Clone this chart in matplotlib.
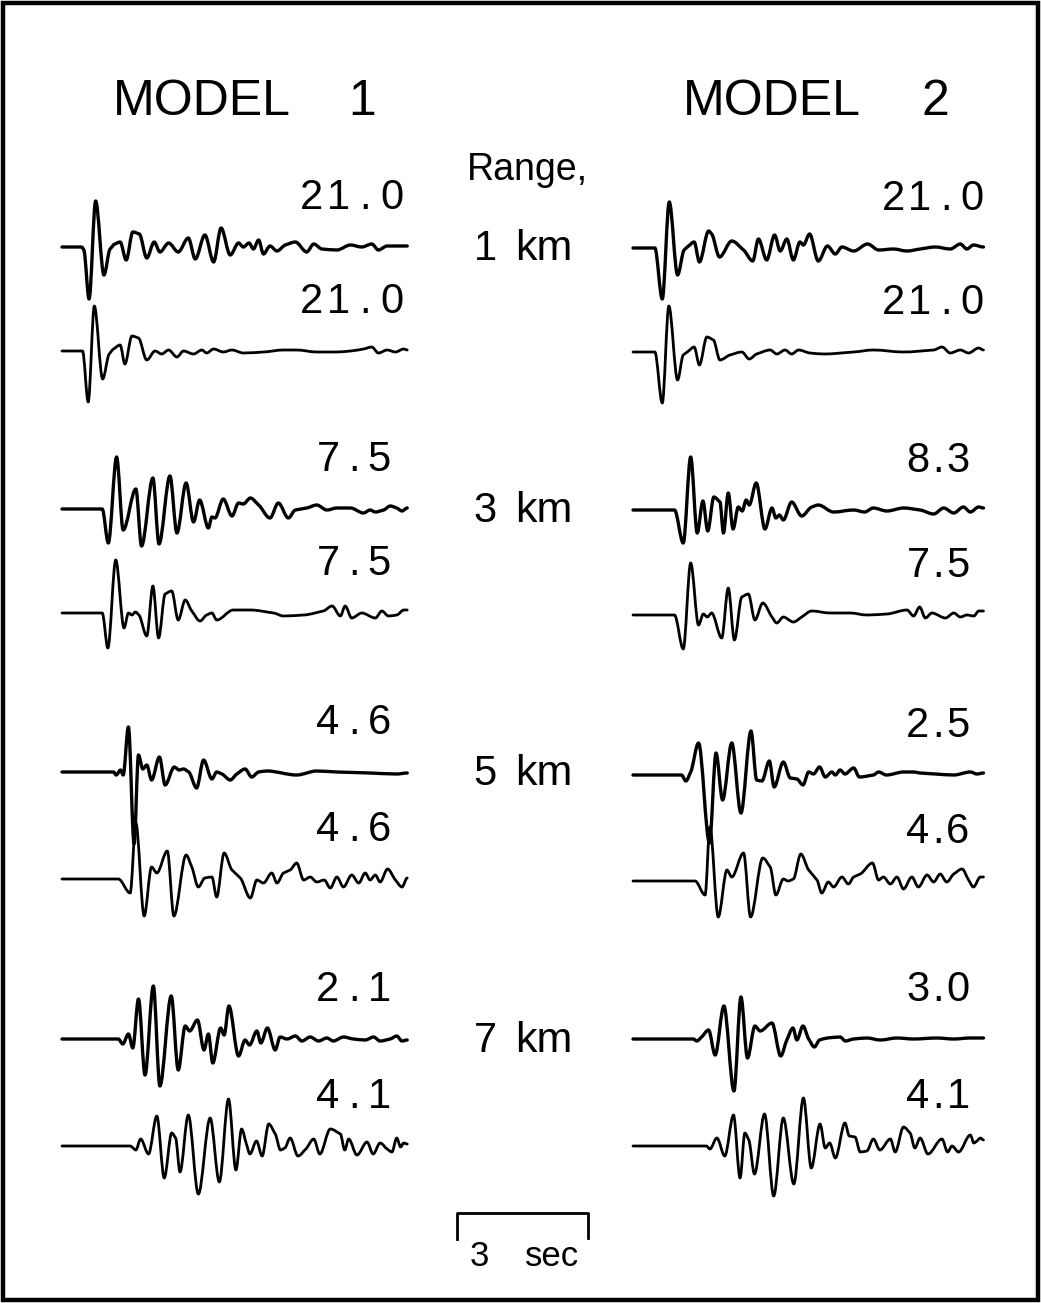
import numpy as np
import matplotlib
matplotlib.use("Agg")
import matplotlib.pyplot as plt
from matplotlib.patches import Rectangle, PathPatch
from matplotlib.path import Path

### data: seismogram traces as (time [s], amplitude)
### ==================================================

MODELS = ["MODEL", "MODEL"]
MODEL_NUMS = ["1", "2"]
RANGES = ["1 km", "3 km", "5 km", "7 km"]
M1_PEAKS = ["21.0", "21.0", "7.5", "7.5", "4.6", "4.6", "2.1", "4.1"]
M2_PEAKS = ["21.0", "21.0", "8.3", "7.5", "2.5", "4.6", "3.0", "4.1"]
SCALE_SEC = 3

M1_1KM_A = [(0, 0), (0.45, 0), (0.50, -3), (0.62, -52), (0.77, 46), (0.96, -28), (1.10, -2), (1.21, 3),
            (1.33, 5), (1.47, -13), (1.62, 15), (1.77, 13), (1.94, -11), (2.11, 5), (2.24, -5), (2.44, 4),
            (2.66, -5), (2.89, 9), (3.05, -12), (3.27, 12), (3.47, -15), (3.64, 19), (3.85, -8), (4.04, 4),
            (4.15, 0), (4.28, 4), (4.38, -2), (4.50, 7), (4.61, -7), (4.76, 1), (4.92, -4), (5.11, 2),
            (5.34, 5), (5.60, -5), (5.76, 3), (5.95, -2), (6.29, -3), (6.60, 2), (6.86, 0), (7.09, 3),
            (7.24, -3), (7.44, 1), (7.90, 1)]
M1_1KM_B = [(0, 0), (0.47, 0), (0.60, -51), (0.74, 45), (0.93, -28), (1.08, -3), (1.18, 2), (1.33, 6),
            (1.44, -13), (1.60, 15), (1.75, 13), (1.94, -9), (2.13, 0), (2.28, -3), (2.44, 1), (2.63, -6),
            (2.78, 0), (3.01, -3), (3.20, 1), (3.31, -2), (3.47, 2), (3.69, -1), (3.89, 1), (4.15, -2),
            (4.61, -1), (5.07, 1), (5.37, 1), (5.83, -1), (6.29, -1), (6.60, 0), (6.90, 2), (7.09, 4),
            (7.24, -2), (7.44, 1), (7.63, -1), (7.82, 2), (7.90, 1)]
M2_1KM_A = [(0, 0), (0.50, 0), (0.67, -51), (0.83, 46), (1.02, -27), (1.17, -2), (1.27, 2), (1.40, 6),
            (1.52, -14), (1.73, 17), (1.80, 14), (1.98, -9), (2.26, 7), (2.53, -2), (2.74, -13), (2.87, 9),
            (3.06, -12), (3.24, 13), (3.37, -3), (3.52, 9), (3.67, -12), (3.82, 6), (3.90, 3), (4.04, 14),
            (4.24, -13), (4.45, 2), (4.63, -6), (4.78, 1), (5.05, -3), (5.37, 4), (5.62, -2), (5.96, -1),
            (6.27, -3), (6.57, -1), (6.92, 1), (7.26, -1), (7.49, 4), (7.64, -1), (7.79, 3), (8.02, 1)]
M2_1KM_B = [(0, 0), (0.50, 0), (0.67, -51), (0.82, 46), (1.02, -28), (1.15, -3), (1.27, 1), (1.40, 5),
            (1.52, -13), (1.69, 15), (1.84, 12), (1.99, -8), (2.22, -3), (2.49, 0), (2.66, -7), (2.83, -2),
            (3.14, 2), (3.29, -2), (3.48, 2), (3.63, -2), (3.79, 2), (4.05, -1), (4.36, -2), (5.05, 0),
            (5.50, 2), (6.19, 0), (6.88, 2), (7.07, 5), (7.26, -1), (7.49, 2), (7.68, -1), (7.91, 4),
            (8.02, 2)]

M1_3KM_A = [(0, 0), (0.92, 0), (1.06, -34), (1.25, 52), (1.40, -21), (1.69, 20), (1.82, -37), (2.08, 31),
            (2.22, -35), (2.47, 33), (2.63, -24), (2.84, 26), (3.01, -13), (3.15, 9), (3.35, -19), (3.43, -8),
            (3.50, -9), (3.69, 10), (3.89, -7), (4.04, 6), (4.15, 5), (4.31, 11), (4.50, 4), (4.76, -9),
            (4.95, 6), (5.18, -9), (5.34, -1), (5.60, 1), (5.83, 4), (6.06, -1), (6.29, 1), (6.60, 1),
            (6.90, -4), (7.05, -1), (7.17, -3), (7.36, -1), (7.51, 3), (7.66, 1), (7.78, -2), (7.90, 1)]
M1_3KM_B = [(0, 0), (0.92, 0), (1.05, -35), (1.23, 53), (1.42, -15), (1.52, 0), (1.60, -2), (1.68, 1),
            (1.76, -2), (1.94, -23), (2.08, 27), (2.21, -25), (2.36, 19), (2.51, 22), (2.66, -7), (2.82, 13),
            (2.97, 2), (3.16, -8), (3.31, -2), (3.43, 0), (3.54, -7), (3.92, 3), (4.31, 3), (4.84, 0),
            (5.07, -3), (5.53, -2), (5.98, 2), (6.18, 7), (6.37, -3), (6.48, 7), (6.63, -5), (6.86, 0),
            (7.17, -5), (7.32, 2), (7.47, -3), (7.66, -2), (7.82, 3), (7.90, 3)]
M2_3KM_A = [(0, 0), (0.95, 0), (1.15, -33), (1.32, 53), (1.47, -23), (1.60, 9), (1.71, -21), (1.85, 13),
            (1.99, 8), (2.07, -23), (2.18, 17), (2.29, -19), (2.41, 3), (2.50, -1), (2.59, 10), (2.66, 5),
            (2.82, 27), (3.02, -19), (3.18, 2), (3.27, -8), (3.35, -5), (3.44, -10), (3.63, 8), (3.86, -6),
            (4.09, 3), (4.24, 5), (4.59, -2), (5.05, 0), (5.30, -2), (5.50, 2), (5.81, -1), (6.19, 2),
            (6.57, 0), (6.88, -4), (7.11, 2), (7.34, -3), (7.56, 3), (7.72, -2), (7.91, 3), (8.02, 2)]
M2_3KM_B = [(0, 0), (0.95, 0), (1.15, -34), (1.32, 52), (1.50, -10), (1.61, 1), (1.70, -2), (1.80, 2),
            (2.03, -23), (2.18, 27), (2.32, -25), (2.49, 18), (2.64, 21), (2.79, -5), (2.97, 12), (3.18, -2),
            (3.29, -8), (3.44, -2), (3.67, -7), (3.86, -2), (4.09, 4), (4.51, 2), (4.97, 2), (5.35, 0),
            (5.81, 1), (6.27, 5), (6.42, -1), (6.56, 8), (6.69, -3), (6.84, 2), (7.15, -3), (7.34, 2),
            (7.49, -2), (7.64, 0), (7.80, -1), (7.91, 4), (8.02, 4)]

M1_5KM_A = [(0, 0), (1.18, 0), (1.24, -3), (1.34, 2), (1.40, -3), (1.52, 45), (1.65, -72), (1.75, 17),
            (1.85, 3), (1.94, 7), (2.05, -8), (2.23, 15), (2.36, -13), (2.57, 5), (2.68, 2), (2.78, 3),
            (2.90, 0), (3.08, -16), (3.24, 12), (3.43, -7), (3.54, 0), (3.66, -2), (3.85, -8), (4.00, -2),
            (4.19, 3), (4.34, -5), (4.50, 0), (4.69, 1), (5.37, -3), (5.83, 1), (6.29, 0), (7.05, -1),
            (7.66, -2), (7.90, -1)]
M1_5KM_B = [(0, 0), (1.29, 0), (1.56, -14), (1.69, 56), (1.88, -37), (2.05, 12), (2.17, 6), (2.41, 28),
            (2.56, -37), (2.84, 24), (2.97, 12), (3.12, -8), (3.27, 1), (3.43, 2), (3.54, -18), (3.71, 26),
            (3.89, 9), (4.08, 1), (4.31, -19), (4.46, -1), (4.61, -4), (4.80, 6), (4.92, -4), (5.07, 6),
            (5.22, 9), (5.37, 16), (5.53, -1), (5.68, 2), (5.83, -3), (6.00, -1), (6.14, -9), (6.29, 2),
            (6.44, -8), (6.63, 4), (6.79, -4), (6.94, 6), (7.05, -1), (7.17, 4), (7.28, -3), (7.45, 10),
            (7.63, -1), (7.78, -8), (7.90, 1)]
M2_5KM_A = [(0, 0), (1.11, 0), (1.21, -6), (1.32, 3), (1.50, 32), (1.75, -68), (1.90, 22), (2.05, -25),
            (2.26, 32), (2.47, -38), (2.70, 44), (2.83, -5), (2.95, -6), (3.12, 14), (3.23, -12), (3.44, 13),
            (3.60, -3), (3.75, -4), (3.89, -10), (4.02, 3), (4.13, 1), (4.27, 8), (4.40, -2), (4.55, 3),
            (4.63, 0), (4.74, 5), (4.85, 1), (5.05, 7), (5.18, -2), (5.50, 0), (5.62, 3), (5.80, 0),
            (6.19, 3), (6.42, 3), (6.57, 2), (6.92, 1), (7.34, 0), (7.72, 3), (7.87, 1), (8.02, 2)]
M2_5KM_B = [(0, 0), (1.42, 0), (1.65, -14), (1.76, 54), (1.95, -36), (2.15, 11), (2.26, 4), (2.53, 28),
            (2.69, -36), (2.97, 23), (3.14, 14), (3.27, -14), (3.44, 2), (3.55, 0), (3.67, 2), (3.84, 27),
            (4.02, 11), (4.21, 1), (4.32, -12), (4.47, -1), (4.59, -6), (4.78, 4), (4.93, -3), (5.05, 4),
            (5.20, 7), (5.48, 18), (5.62, 1), (5.73, 4), (5.89, -3), (6.04, 4), (6.19, -8), (6.38, 4),
            (6.53, -6), (6.73, 6), (6.88, -1), (7.03, 7), (7.18, -1), (7.34, 7), (7.53, 12), (7.68, 1),
            (7.79, -6), (7.95, 4), (8.02, 4)]

M1_7KM_A = [(0, 0), (1.29, 0), (1.39, -5), (1.52, 5), (1.62, -9), (1.75, 40), (1.90, -36), (2.09, 53),
            (2.24, -47), (2.50, 43), (2.66, -31), (2.82, 13), (2.92, 8), (3.10, 19), (3.25, -11), (3.35, 5),
            (3.45, -24), (3.63, 11), (3.71, 4), (3.82, 33), (4.04, -17), (4.19, -1), (4.29, -6), (4.46, 8),
            (4.55, -4), (4.70, 11), (4.88, -11), (4.99, 2), (5.15, 0), (5.34, 3), (5.49, -2), (5.68, 2),
            (5.87, -2), (6.06, 1), (6.21, -2), (6.44, 2), (6.67, 0), (6.94, -1), (7.13, 2), (7.28, -2),
            (7.51, 0), (7.66, 3), (7.78, -2), (7.90, -1)]
M1_7KM_B = [(0, 0), (1.56, 0), (1.69, -4), (1.80, 7), (1.98, -8), (2.17, 30), (2.34, -32), (2.51, 13),
            (2.60, 8), (2.70, -26), (2.89, 31), (3.12, -48), (3.39, 28), (3.60, -36), (3.81, 47), (3.98, -24),
            (4.11, 17), (4.22, 2), (4.30, -8), (4.45, 5), (4.58, -10), (4.73, 22), (4.88, 12), (5.00, -4),
            (5.10, -2), (5.22, 8), (5.40, -10), (5.58, -3), (5.76, 7), (5.90, -8), (6.14, 17), (6.37, 12),
            (6.47, -4), (6.56, 7), (6.75, -9), (6.98, 4), (7.12, -8), (7.28, 3), (7.44, -3), (7.55, -6),
            (7.66, 8), (7.75, -1), (7.82, 3), (7.90, 2)]
M2_7KM_A = [(0, 0), (1.38, 0), (1.46, -2), (1.57, 2), (1.73, 9), (1.88, -16), (2.08, 33), (2.31, -52),
            (2.47, 42), (2.62, -19), (2.79, 13), (2.91, 8), (3.18, 16), (3.38, -17), (3.52, -1), (3.66, 11),
            (3.75, -1), (3.89, 13), (4.02, 0), (4.15, -8), (4.27, -1), (4.45, 1), (4.74, 2), (4.86, -2),
            (5.05, 0), (5.35, 1), (5.66, -1), (6.04, 1), (6.42, 0), (6.95, 1), (7.34, 0), (7.72, 1),
            (8.02, 1)]
M2_7KM_B = [(0, 0), (1.68, 0), (1.76, -3), (1.92, 8), (2.10, -10), (2.30, 31), (2.45, -32), (2.56, 13),
            (2.65, 6), (2.78, -28), (3.01, 32), (3.22, -50), (3.44, 28), (3.68, -38), (3.90, 48), (4.08, -22),
            (4.28, 22), (4.40, -2), (4.50, 3), (4.63, -12), (4.85, 23), (4.95, 10), (5.08, 9), (5.20, -6),
            (5.35, -5), (5.50, 7), (5.65, -4), (5.89, 7), (6.00, -6), (6.19, 19), (6.34, 13), (6.45, -2),
            (6.57, 8), (6.75, -8), (7.07, 7), (7.20, -6), (7.30, 0), (7.45, -6), (7.72, 11), (7.80, 3),
            (7.87, 5), (7.95, 8), (8.02, 6)]

M1_TRACES = [M1_1KM_A, M1_1KM_B, M1_3KM_A, M1_3KM_B, M1_5KM_A, M1_5KM_B, M1_7KM_A, M1_7KM_B]
M2_TRACES = [M2_1KM_A, M2_1KM_B, M2_3KM_A, M2_3KM_B, M2_5KM_A, M2_5KM_B, M2_7KM_A, M2_7KM_B]


### layout (figure pixels, y down)
### ==================================================
W, H = 1041, 1303
PX_PER_SEC = 43.7
PANEL_X0 = [62, 633]
BASELINES = [[247, 351, 509, 613, 772, 879, 1039, 1146],
             [248, 352, 510, 615, 775, 881, 1039, 1146]]
TITLE_X = [(113, 362), (683, 935)]
# first glyph centre / advance for 4- and 3-character peak labels
LABEL_POS = [{4: (312, 26.7), 3: (328, 25.5)},
             {4: (893, 26.3), 3: (918, 20.0)}]
FONT = ['Liberation Sans', 'DejaVu Sans']


def spaced_text(ax, x_first, y, s, adv, size):
    # draw characters one by one at a fixed advance, like plotter lettering
    for i, ch in enumerate(s):
        if ch != ' ':
            ax.text(x_first + i * adv, y, ch, ha='center', va='baseline',
                    fontsize=size, family=FONT, color='black')


def trace_path(x, y):
    # smooth pen path through the read-off extrema (flat tangent at turning points)
    n = len(x)
    m = np.zeros(n)
    for i in range(1, n - 1):
        dl = (y[i] - y[i - 1]) / (x[i] - x[i - 1])
        dr = (y[i + 1] - y[i]) / (x[i + 1] - x[i])
        if dl * dr > 0:
            m[i] = np.sign(dl) * min(abs(dl), abs(dr), abs(dl + dr) / 2 * 1.5)
    verts = [(x[0], y[0])]
    codes = [Path.MOVETO]
    for i in range(n - 1):
        dx = (x[i + 1] - x[i]) / 3
        verts += [(x[i] + dx, y[i] + m[i] * dx),
                  (x[i + 1] - dx, y[i + 1] - m[i + 1] * dx),
                  (x[i + 1], y[i + 1])]
        codes += [Path.CURVE4] * 3
    return Path(verts, codes)


fig = plt.figure(figsize=(W / 100, H / 100), dpi=100)
ax = fig.add_axes([0, 0, 1, 1])
ax.set_xlim(0, W)
ax.set_ylim(H, 0)
ax.axis('off')

# outer frame
ax.add_patch(Rectangle((3, 3), W - 6, H - 6, fill=False, lw=3.2, ec='black'))

# model titles
for p in range(2):
    ax.text(TITLE_X[p][0], 115, MODELS[p], ha='left', va='baseline', fontsize=36, family=FONT)
    ax.text(TITLE_X[p][1], 115, MODEL_NUMS[p], ha='center', va='baseline', fontsize=36, family=FONT)

# traces and peak labels
for p, (traces, peaks) in enumerate([(M1_TRACES, M1_PEAKS), (M2_TRACES, M2_PEAKS)]):
    for k, (tr, lab) in enumerate(zip(traces, peaks)):
        tr = np.array(tr, dtype=float)
        base = BASELINES[p][k]
        x = PANEL_X0[p] + tr[:, 0] * PX_PER_SEC
        y = base - tr[:, 1]
        lw = 2.4 if k % 2 == 0 else 2.0
        ax.add_patch(PathPatch(trace_path(x, y), fill=False, ec='black', lw=lw,
                               joinstyle='round', capstyle='round'))
        x_first, adv = LABEL_POS[p][len(lab)]
        spaced_text(ax, x_first, base - 38, lab, adv, 30)

# range column
ax.text(527, 180, "Range,", ha='center', va='baseline', fontsize=27, family=FONT)
for k, r in enumerate(RANGES):
    num, unit = r.split()
    yb = BASELINES[0][2 * k] + 13
    ax.text(485, yb, num, ha='center', va='baseline', fontsize=30, family=FONT)
    ax.text(544, yb, unit, ha='center', va='baseline', fontsize=31, family=FONT)

# time scale bar
x_left = 457
x_right = x_left + SCALE_SEC * PX_PER_SEC
ax.plot([x_left, x_left, x_right, x_right], [1239, 1213, 1213, 1238], color='black', lw=2.0)
ax.text(479, 1266, "%d" % SCALE_SEC, ha='center', va='baseline', fontsize=25, family=FONT)
ax.text(552, 1266, "sec", ha='center', va='baseline', fontsize=25, family=FONT)

fig.savefig("out.png", dpi=100)
